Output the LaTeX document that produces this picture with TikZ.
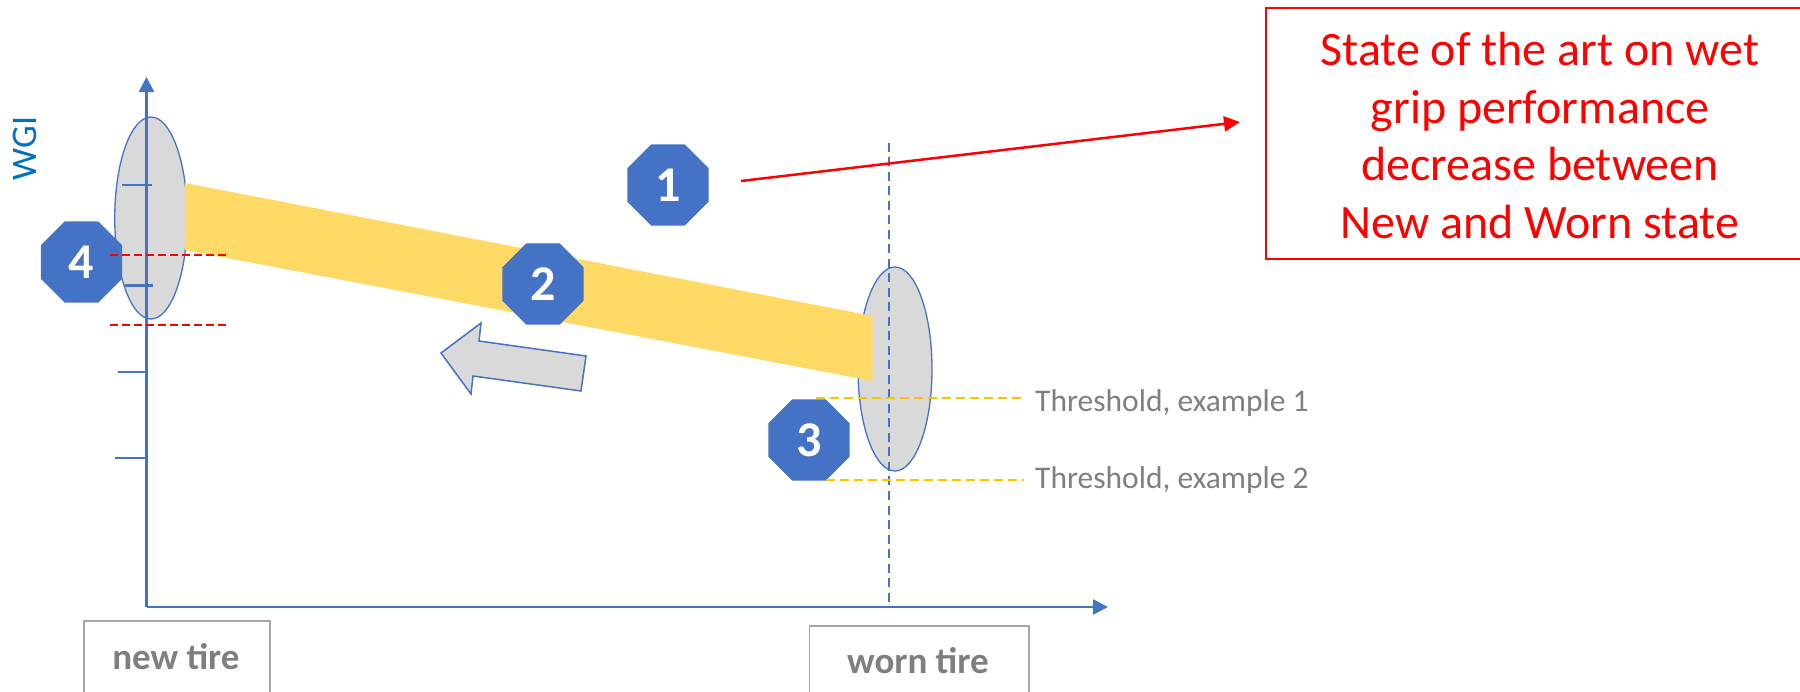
\documentclass[tikz,border=0pt]{standalone}
\usepackage{fontspec}
\setmainfont{Carlito}
\usetikzlibrary{shapes.geometric,arrows.meta}
\definecolor{axisblue}{HTML}{4472C4}
\definecolor{wgiblue}{HTML}{0070C0}
\definecolor{bandyellow}{HTML}{FFD966}
\definecolor{ellgray}{HTML}{D9D9D9}
\definecolor{txtgray}{HTML}{7F7F7F}
\definecolor{boxgray}{HTML}{A6A6A6}
\definecolor{thrgold}{HTML}{FFC000}
\begin{document}
\begin{tikzpicture}[x=1pt,y=-1pt,
  octa/.style={regular polygon, regular polygon sides=8, minimum size=88pt, inner sep=0pt,
    fill=axisblue, text=white, font=\fontsize{50}{50}\selectfont\bfseries},
  tireell/.style={ellipse, draw=axisblue, line width=1.3pt, fill=ellgray, inner sep=0pt},
  axisline/.style={draw=axisblue, line width=2.6pt, -{Triangle[length=15pt,width=15pt]}},
  tickline/.style={draw=axisblue, line width=2.2pt},
  vdashline/.style={draw=axisblue, line width=2.2pt, dash pattern=on 9pt off 5.5pt},
  reddash/.style={draw=red, line width=2.2pt, dash pattern=on 8pt off 4pt},
  thrline/.style={draw=thrgold, line width=2pt, dash pattern=on 9pt off 5pt},
  thrtext/.style={anchor=base west, text=txtgray, font=\fontsize{31.5}{36}\selectfont, inner sep=0pt},
  tirebox/.style={draw=boxgray, line width=1.5pt},
  tirelabel/.style={anchor=base, text=txtgray, font=\fontsize{37}{40}\selectfont\bfseries, inner sep=0pt},
  blockarrow/.style={fill=ellgray, draw=axisblue, line width=1.5pt, line join=miter},
  redarrow/.style={draw=red, line width=2.5pt, -{Triangle[length=16pt,width=15pt]}}
]
\useasboundingbox (0,0) rectangle (1800,692);
\clip (0,0) rectangle (1800,692);

% ellipses
\node[tireell, minimum width=72.5pt, minimum height=202pt] (eNew) at (151,218) {};
\node[tireell, minimum width=74pt, minimum height=204pt] (eWorn) at (895,369) {};

% axes
\coordinate (O) at (146.5,607);
\coordinate (Ytip) at (146.5,77);
\coordinate (Xtip) at (1108,607);
\draw[axisline] (O) -- (Ytip);
\draw[axisline] (O) -- (Xtip);
\draw[tickline] (122,185) -- (152,185);
\draw[tickline] (125,285.5) -- (153,285.5);
\draw[tickline] (117.5,372) -- (146.5,372);
\draw[tickline] (115,458) -- (146.5,458);
\coordinate (vTop) at (889,143);
\coordinate (vBot) at (889,603);
\draw[vdashline] (vTop) -- (vBot);

% WGI label
\node[text=wgiblue, rotate=90, font=\fontsize{36}{40}\selectfont, inner sep=0pt] (wgi) at (25,148.5) {WGI};

% yellow band
\fill[bandyellow] (185,183) -- (872.5,316) -- (872.5,381) -- (185,250) -- cycle;

% block arrow
\draw[blockarrow] (441,353) -- (481,323) -- (479,341) -- (586,356) -- (581,391) -- (473,376) -- (471,394) -- cycle;

% octagons
\node[octa] (o1) at (668,185) {1};
\node[octa] (o2) at (543,284) {2};
\node[octa] (o3) at (809,440) {3};
\node[octa] (o4) at (81.5,262) {4};

% red dashed levels
\draw[reddash] (110,255) -- (226,255);
\draw[reddash] (110,325) -- (226,325);

% thresholds
\draw[thrline] (816,398) -- (1024,398);
\draw[thrline] (826,480) -- (1024,480);
\node[thrtext] (t1) at (1035,411.5) {Threshold, example 1};
\node[thrtext] (t2) at (1035,488.5) {Threshold, example 2};

% bottom boxes
\draw[tirebox] (84,621) rectangle (270,720);
\node[tirelabel] (newlbl) at (176,669) {new tire};
\draw[tirebox] (809.5,626) rectangle (1029,720);
\node[tirelabel] (wornlbl) at (918,673) {worn tire};

% red box and arrow
\draw[draw=red, line width=2.2pt] (1266,8) rectangle (1830,259);
\node[text=red, align=center, font=\fontsize{48}{57.5}\selectfont, inner sep=0pt] (rtext) at (1540,135.5)
  {State of the art on wet\\grip performance\\decrease between\\New and Worn state};
\coordinate (rs) at (741,181);
\coordinate (rt) at (1240,122);
\draw[redarrow] (rs) -- (rt);
\end{tikzpicture}
\end{document}
